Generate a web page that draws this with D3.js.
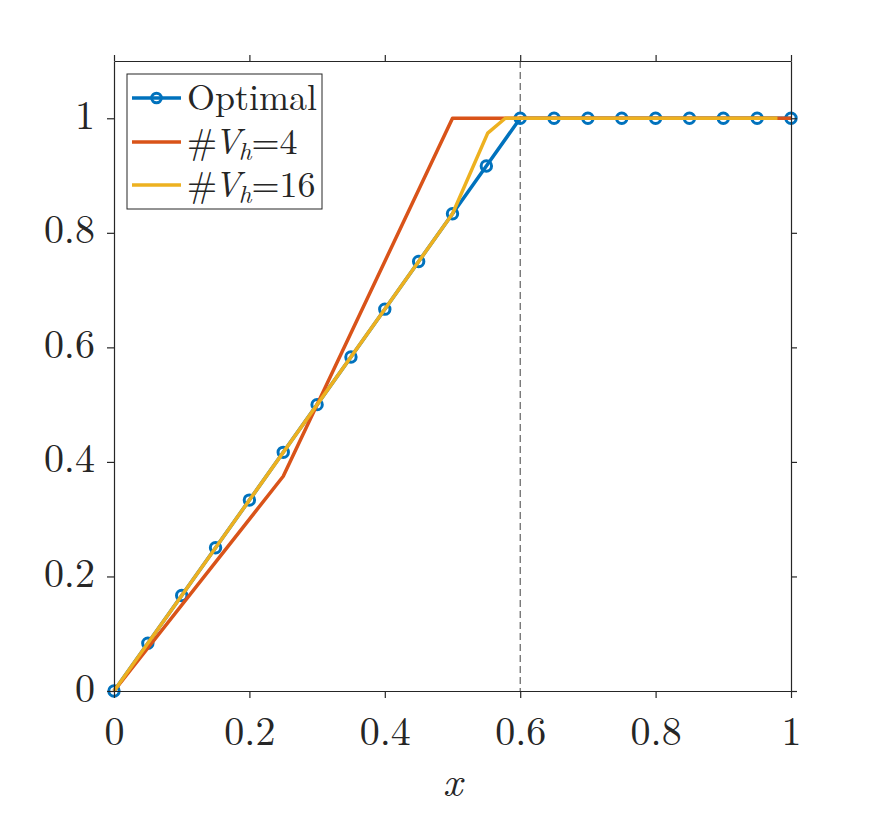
<!DOCTYPE html>
<html>
<head>
<meta charset="utf-8">
<script src="https://cdn.jsdelivr.net/npm/d3@7"></script>
<style>
  body { margin: 0; background: #fff; }
  svg text { font-family: "CMU Serif", "Latin Modern Roman", "Liberation Serif", "DejaVu Serif", serif; fill: #262626; }
</style>
</head>
<body>
<div id="container"></div>
<script>
/* CONSTANTS AND GLOBALS */
const width = 875,
  height = 813,
  margin = { top: 61, bottom: 122, left: 114, right: 84 };

/* DATA */
// Optimal: sampled every 0.05
const optX = [0, 0.05, 0.1, 0.15, 0.2, 0.25, 0.3, 0.35, 0.4, 0.45, 0.5, 0.55, 0.6,
  0.65, 0.7, 0.75, 0.8, 0.85, 0.9, 0.95, 1];
const optY = [0, 0.0833, 0.1667, 0.25, 0.3333, 0.4167, 0.5, 0.5833, 0.6667, 0.75, 0.8333, 0.9167, 1,
  1, 1, 1, 1, 1, 1, 1, 1];
// #Vh=4
const v4X = [0, 0.25, 0.5, 1];
const v4Y = [0, 0.375, 1, 1];
// #Vh=16
const v16X = [0, 0.5, 0.552, 0.578, 0.98];
const v16Y = [0, 0.8333, 0.974, 1, 1];

const xTicks = [0, 0.2, 0.4, 0.6, 0.8, 1];
const yTicks = [0, 0.2, 0.4, 0.6, 0.8, 1];
const dashX = 0.6;

const colors = { opt: "#0072BD", v4: "#D95319", v16: "#EDB120" };
const axisColor = "#262626";
const tickFmt = d3.format("~g"); // 0, 0.2, ..., 1

/* SCALES */
const xScale = d3.scaleLinear()
  .domain([0, 1])
  .range([margin.left, width - margin.right]);

const yScale = d3.scaleLinear()
  .domain([0, 1.1])
  .range([height - margin.bottom, margin.top]);

/* HTML ELEMENTS */
const svg = d3.select("#container")
  .append("svg")
  .attr("width", width)
  .attr("height", height);

// dashed line at x = 0.6
svg.append("line")
  .attr("x1", xScale(dashX)).attr("x2", xScale(dashX))
  .attr("y1", yScale(1.1)).attr("y2", yScale(0))
  .attr("stroke", "#404040")
  .attr("stroke-width", 1)
  .attr("stroke-dasharray", "7,4");

const line = d3.line()
  .x(d => xScale(d[0]))
  .y(d => yScale(d[1]));

const optData = optX.map((x, i) => [x, optY[i]]);
const v4Data = v4X.map((x, i) => [x, v4Y[i]]);
const v16Data = v16X.map((x, i) => [x, v16Y[i]]);

// Optimal line + markers
svg.append("path")
  .datum(optData)
  .attr("d", line)
  .attr("fill", "none")
  .attr("stroke", colors.opt)
  .attr("stroke-width", 3.5)
  .attr("stroke-linejoin", "round");

svg.selectAll(".marker")
  .data(optData)
  .join("circle")
  .attr("class", "marker")
  .attr("cx", d => xScale(d[0]))
  .attr("cy", d => yScale(d[1]))
  .attr("r", 5.2)
  .attr("fill", "none")
  .attr("stroke", colors.opt)
  .attr("stroke-width", 3);

svg.append("path")
  .datum(v4Data)
  .attr("d", line)
  .attr("fill", "none")
  .attr("stroke", colors.v4)
  .attr("stroke-width", 3.5)
  .attr("stroke-linejoin", "round");

svg.append("path")
  .datum(v16Data)
  .attr("d", line)
  .attr("fill", "none")
  .attr("stroke", colors.v16)
  .attr("stroke-width", 3.5)
  .attr("stroke-linejoin", "round");

/* AXES */
function styleAxis(g) {
  g.selectAll("path.domain").attr("stroke", axisColor).attr("stroke-width", 1.2);
  g.selectAll(".tick line").attr("stroke", axisColor).attr("stroke-width", 1.2);
}

const xAxis = svg.append("g")
  .attr("transform", `translate(0, ${yScale(0)})`)
  .call(d3.axisBottom(xScale).tickValues(xTicks).tickFormat(tickFmt).tickSize(7).tickSizeOuter(0).tickPadding(0))
  .call(styleAxis);
xAxis.selectAll(".tick text")
  .attr("font-size", 40)
  .attr("dy", null)
  .attr("y", 54)
  .attr("fill", axisColor);

svg.append("g")
  .attr("transform", `translate(0, ${yScale(1.1)})`)
  .call(d3.axisTop(xScale).tickValues(xTicks).tickSize(6).tickSizeOuter(0).tickFormat(""))
  .call(styleAxis);

const yAxis = svg.append("g")
  .attr("transform", `translate(${xScale(0)}, 0)`)
  .call(d3.axisLeft(yScale).tickValues(yTicks).tickFormat(tickFmt).tickSize(7).tickSizeOuter(0).tickPadding(12))
  .call(styleAxis);
yAxis.selectAll(".tick text")
  .attr("font-size", 40)
  .attr("dy", null)
  .attr("y", 10)
  .attr("fill", axisColor);

svg.append("g")
  .attr("transform", `translate(${xScale(1)}, 0)`)
  .call(d3.axisRight(yScale).tickValues(yTicks).tickSize(6).tickSizeOuter(0).tickFormat(""))
  .call(styleAxis);

// x label
svg.append("text")
  .attr("x", (xScale(0) + xScale(1)) / 2)
  .attr("y", 796)
  .attr("text-anchor", "middle")
  .attr("font-size", 42)
  .attr("font-style", "italic")
  .text("x");

/* LEGEND */
const legend = svg.append("g").attr("transform", "translate(127, 74)");
legend.append("rect")
  .attr("width", 195)
  .attr("height", 135)
  .attr("fill", "#fff")
  .attr("stroke", axisColor)
  .attr("stroke-width", 1);

const entries = [
  { key: "opt", y: 24, marker: true },
  { key: "v4", y: 68, sub: "4" },
  { key: "v16", y: 111, sub: "16" }
];

entries.forEach(e => {
  legend.append("line")
    .attr("x1", 5).attr("x2", 54)
    .attr("y1", e.y).attr("y2", e.y)
    .attr("stroke", colors[e.key])
    .attr("stroke-width", 3.5);
  if (e.marker) {
    legend.append("circle")
      .attr("cx", 29.5).attr("cy", e.y).attr("r", 4.8)
      .attr("fill", "none")
      .attr("stroke", colors[e.key])
      .attr("stroke-width", 3);
  }
  const t = legend.append("text")
    .attr("x", 60)
    .attr("y", e.y + 12)
    .attr("font-size", 36);
  if (e.key === "opt") {
    t.text("Optimal");
  } else {
    t.append("tspan").text("#");
    t.append("tspan").attr("font-style", "italic").attr("dx", -3).text("V");
    t.append("tspan").attr("font-style", "italic").attr("font-size", 25).attr("dx", -2).attr("dy", 6).text("h");
    t.append("tspan").attr("dy", -6).text("=" + e.sub);
  }
});
</script>
</body>
</html>
